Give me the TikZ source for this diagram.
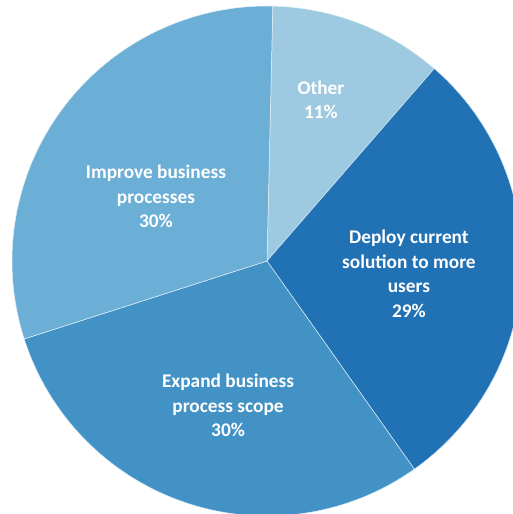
\documentclass[tikz,border=0pt]{standalone}
\usepackage{fontspec}
\setmainfont{Carlito}
\definecolor{blueA}{HTML}{9ECAE1}
\definecolor{blueB}{HTML}{2171B5}
\definecolor{blueC}{HTML}{4292C6}
\definecolor{blueD}{HTML}{6BAED6}
\tikzset{
  slicelabel/.style={text=white,align=center,font=\fontsize{11}{13.9}\selectfont\bfseries}
}
\begin{document}
\begin{tikzpicture}
  \useasboundingbox (-5.34,-5.06) rectangle (4.92,5.22);
  \foreach \from/\to/\col in {88.7/49/blueA,49/-54.7/blueB,-54.7/-162.2/blueC,-162.2/-271.3/blueD} {
   \fill[\col,draw=white!80!\col,line width=0.3pt] (0,0) -- (\from:5.1) arc (\from:\to:5.1) -- cycle;
  }

  \node[slicelabel] (other) at (71.5:3.4) {Other\\11\%};
  \node[slicelabel] (deploy) at (-5.2:2.85) {Deploy current\\solution to more\\users\\29\%};
  \node[slicelabel] (expand) at (-105.1:2.99) {Expand business\\process scope\\30\%};
  \node[slicelabel] (improve) at (149.8:2.57) {Improve business\\processes\\30\%};
 \end{tikzpicture}
\end{document}
